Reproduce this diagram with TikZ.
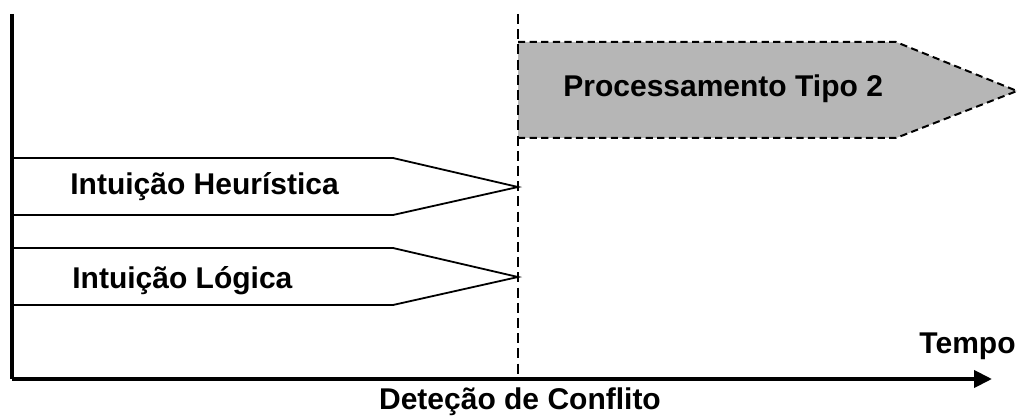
\documentclass[tikz,border=0pt]{standalone}
\usepackage{fontspec}
\setmainfont{Liberation Sans}
\usetikzlibrary{arrows.meta}
\definecolor{phasegray}{HTML}{B6B6B6}
\begin{document}
\begin{tikzpicture}[x=0.5pt,y=-0.5pt,
  lbl/.style={font=\fontsize{15}{18}\selectfont\bfseries, inner sep=0pt},
  axis/.style={line width=2pt},
  phase/.style={draw=black, line width=0.9pt, line join=miter},
  phasedash/.style={draw=black, line width=1pt, dash pattern=on 3.6pt off 2.2pt, fill=phasegray},
  marker/.style={line width=0.9pt, dash pattern=on 5pt off 2.6pt}]
\useasboundingbox (0,0) rectangle (1019,417);
% phases
\draw[phasedash] (518,42) -- (896,42) -- (1017,91) -- (896,138) -- (518,138);
\draw[phase] (14,158) -- (393,158) -- (518,187) -- (393,215) -- (14,215);
\draw[phase] (14,248) -- (393,248) -- (518,277) -- (393,305) -- (14,305);
% conflict marker
\coordinate (mtop) at (518,14);
\coordinate (mbot) at (518,379);
\draw[marker] (mtop) -- (mbot);
% axes
\coordinate (origin) at (12,379);
\coordinate (ytop) at (12,14);
\coordinate (xend) at (992,379);
\draw[axis] (ytop) -- (origin);
\draw[axis, -{Triangle[length=9pt,width=8.5pt]}] (origin) -- (xend);
% labels
\node[lbl, anchor=west] (p2) at (563,89) {Processamento Tipo 2};
\node[lbl, anchor=west] (ih) at (70,187) {Intuição Heurística};
\node[lbl, anchor=west] (il) at (72,281) {Intuição Lógica};
\node[lbl, anchor=east] (tempo) at (1016,346) {Tempo};
\node[lbl] (dc) at (520,402) {Deteção de Conflito};
\end{tikzpicture}
\end{document}
